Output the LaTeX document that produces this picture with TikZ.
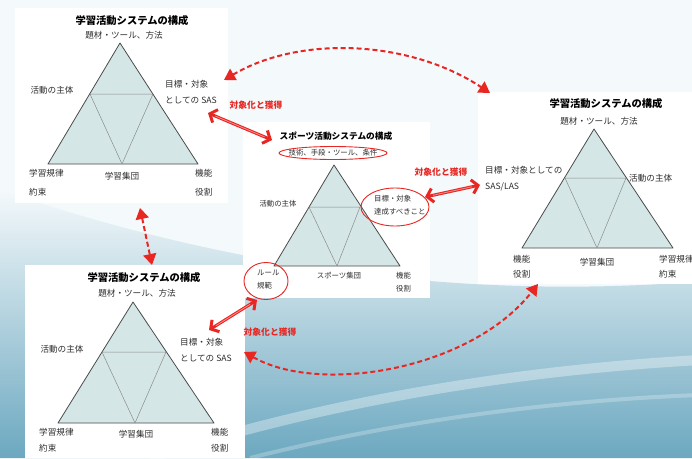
\documentclass[tikz,border=0pt]{standalone}
\usepackage{fontspec}
\newfontfamily\jp{Noto Sans CJK JP}
\usetikzlibrary{arrows.meta,shapes.geometric}
\definecolor{redc}{RGB}{232,38,34}
\definecolor{trif}{RGB}{212,230,230}
\definecolor{edgec}{RGB}{75,75,75}
\definecolor{innc}{RGB}{140,140,140}
\definecolor{txtc}{RGB}{45,45,45}
\definecolor{bgl}{RGB}{244,249,251}
\definecolor{seab}{RGB}{108,168,192}
\tikzset{
  tri/.style={fill=trif, draw=edgec, line width=0.8pt, line join=round},
  innl/.style={draw=innc, line width=0.5pt, line join=round},
  lbl/.style={font=\jp\fontsize{8.6}{9}\selectfont, text=txtc, inner sep=0pt},
  lbls/.style={font=\jp\fontsize{7.4}{8}\selectfont, text=txtc, inner sep=0pt},
  ttl/.style={font=\jp\bfseries\fontsize{10.3}{11}\selectfont, text=black, inner sep=0pt},
  ttls/.style={font=\jp\bfseries\fontsize{8.7}{9}\selectfont, text=black, inner sep=0pt},
  rlbl/.style={font=\jp\bfseries\fontsize{8.8}{9}\selectfont, text=redc, inner sep=0pt},
  redring/.style={draw=redc, line width=0.9pt, ellipse, inner sep=0pt},
  dbl/.style={draw=redc, line width=3pt, {Straight Barb[length=6pt,width=14pt]}-{Straight Barb[length=6pt,width=14pt]}},
  dblin/.style={draw=white!55!red, line width=0.8pt, shorten <=8pt, shorten >=8pt},
  dsh/.style={draw=redc, line width=2pt, dash pattern=on 5pt off 3pt, {Triangle[length=11pt,width=13pt]}-{Triangle[length=11pt,width=13pt]}},
  panel/.style={fill=white}
}
\begin{document}
\begin{tikzpicture}[x=1pt,y=-1pt]
\useasboundingbox (0,0) rectangle (692,458);
\clip (0,0) rectangle (692,458);
% background
\fill[bgl] (0,0) rectangle (692,458);
\shade[top color=bgl, bottom color=seab] (0,190) .. controls (220,265) and (450,300) .. (692,282) -- (692,458) -- (0,458) -- cycle;
\draw[white, opacity=0.35, line width=10pt] (150,458) .. controls (330,400) and (520,370) .. (700,360);
\draw[white, opacity=0.25, line width=4pt] (250,458) .. controls (400,420) and (560,400) .. (700,395);
% panels
\fill[panel] (15,8) rectangle (228,203);
\fill[panel] (243,122) rectangle (430,298);
\fill[panel] (478,92) rectangle (692,284);
\fill[panel] (25,265) rectangle (245,458);

% ---------- triangle 1 (top-left)
\coordinate (t1a) at (120,43); \coordinate (t1l) at (48,164); \coordinate (t1r) at (198,164);
\coordinate (t1p) at (90,94); \coordinate (t1q) at (153,94); \coordinate (t1m) at (122,164);
\draw[tri] (t1a) -- (t1l) -- (t1r) -- cycle;
\draw[innl] (t1p) -- (t1q) -- (t1m) -- cycle;
\node[ttl] (t1title) at (132,21) {学習活動システムの構成};
\node[lbl] (t1top) at (124,35) {題材・ツール、方法};
\node[lbl] (t1subj) at (52,90) {活動の主体};
\node[lbl,anchor=west] (t1g1) at (165,84) {目標・対象};
\node[lbl,anchor=west] (t1g2) at (165,100) {としての SAS};
\node[lbl,anchor=west] (t1r1) at (29,173) {学習規律};
\node[lbl,anchor=west] (t1r2) at (29,192) {約束};
\node[lbl] (t1grp) at (122,176) {学習集団};
\node[lbl,anchor=west] (t1f1) at (195,173) {機能};
\node[lbl,anchor=west] (t1f2) at (195,192) {役割};

% ---------- triangle 2 (center)
\coordinate (t2a) at (334,165); \coordinate (t2l) at (274,266); \coordinate (t2r) at (400,266);
\coordinate (t2p) at (309,207); \coordinate (t2q) at (360,207); \coordinate (t2m) at (337,266);
\draw[tri] (t2a) -- (t2l) -- (t2r) -- cycle;
\draw[innl] (t2p) -- (t2q) -- (t2m) -- cycle;
\node[ttls] (t2title) at (336,136) {スポーツ活動システムの構成};
\node[lbls] (t2top) at (333,153) {技術、手段・ツール、条件};
\node[redring, minimum width=108pt, minimum height=13pt] (t2topring) at (333,153) {};
\node[lbls] (t2subj) at (278,204) {活動の主体};
\node[lbls,anchor=west] (t2g1) at (374,199) {目標・対象};
\node[lbls,anchor=west] (t2g2) at (374,212) {達成すべきこと};
\node[redring, minimum width=68pt, minimum height=38pt] (t2gring) at (395,207) {};
\node[lbls,anchor=west] (t2r1) at (257,273) {ルール};
\node[lbls,anchor=west] (t2r2) at (257,286) {規範};
\node[redring, minimum width=44pt, minimum height=37pt] (t2rring) at (266,281) {};
\node[lbls] (t2grp) at (339,276) {スポーツ集団};
\node[lbls,anchor=west] (t2f1) at (396,276) {機能};
\node[lbls,anchor=west] (t2f2) at (396,289) {役割};

% ---------- triangle 3 (right)
\coordinate (t3a) at (594,129); \coordinate (t3l) at (522,248); \coordinate (t3r) at (673,248);
\coordinate (t3p) at (565,178); \coordinate (t3q) at (626,178); \coordinate (t3m) at (597,248);
\draw[tri] (t3a) -- (t3l) -- (t3r) -- cycle;
\draw[innl] (t3p) -- (t3q) -- (t3m) -- cycle;
\node[ttl] (t3title) at (606,104) {学習活動システムの構成};
\node[lbl] (t3top) at (599,121) {題材・ツール、方法};
\node[lbl,anchor=west] (t3g1) at (485,170) {目標・対象としての};
\node[lbl,anchor=west] (t3g2) at (485,187) {SAS/LAS};
\node[lbl,anchor=west] (t3subj) at (629,178) {活動の主体};
\node[lbl,anchor=west] (t3f1) at (513,259) {機能};
\node[lbl,anchor=west] (t3f2) at (513,274) {役割};
\node[lbl] (t3grp) at (597,262) {学習集団};
\node[lbl,anchor=west] (t3r1) at (659,259) {学習規律};
\node[lbl,anchor=west] (t3r2) at (659,274) {約束};

% ---------- triangle 4 (bottom-left)
\coordinate (t4a) at (133,302); \coordinate (t4l) at (58,423); \coordinate (t4r) at (214,423);
\coordinate (t4p) at (102,352); \coordinate (t4q) at (166,352); \coordinate (t4m) at (135,423);
\draw[tri] (t4a) -- (t4l) -- (t4r) -- cycle;
\draw[innl] (t4p) -- (t4q) -- (t4m) -- cycle;
\node[ttl] (t4title) at (144,278) {学習活動システムの構成};
\node[lbl] (t4top) at (137,293) {題材・ツール、方法};
\node[lbl] (t4subj) at (62,349) {活動の主体};
\node[lbl,anchor=west] (t4g1) at (180,342) {目標・対象};
\node[lbl,anchor=west] (t4g2) at (180,358) {としての SAS};
\node[lbl,anchor=west] (t4r1) at (39,432) {学習規律};
\node[lbl,anchor=west] (t4r2) at (39,448) {約束};
\node[lbl] (t4grp) at (136,434) {学習集団};
\node[lbl,anchor=west] (t4f1) at (211,432) {機能};
\node[lbl,anchor=west] (t4f2) at (211,448) {役割};

% ---------- solid double arrows
\coordinate (a1s) at (208,113); \coordinate (a1e) at (272,140);
\draw[dbl] (a1s) -- (a1e); \draw[dblin] (a1s) -- (a1e);
\node[rlbl] (r1) at (256,105) {対象化と獲得};
\coordinate (a2s) at (425,197); \coordinate (a2e) at (480,185);
\draw[dbl] (a2s) -- (a2e); \draw[dblin] (a2s) -- (a2e);
\node[rlbl] (r2) at (441,172) {対象化と獲得};
\coordinate (a3s) at (257,300); \coordinate (a3e) at (209,330);
\draw[dbl] (a3s) -- (a3e); \draw[dblin] (a3s) -- (a3e);
\node[rlbl] (r3) at (270,332) {対象化と獲得};

% ---------- dashed curved arrows
\coordinate (d1s) at (224,80); \coordinate (d1e) at (490,93);
\draw[dsh] (d1s) .. controls (300,35) and (410,40) .. (d1e);
\coordinate (d2s) at (140,208); \coordinate (d2e) at (152,265);
\draw[dsh] (d2s) -- (d2e);
\coordinate (d3s) at (244,352); \coordinate (d3e) at (538,284);
\draw[dsh] (d3s) .. controls (320,395) and (470,370) .. (d3e);
\end{tikzpicture}
\end{document}
